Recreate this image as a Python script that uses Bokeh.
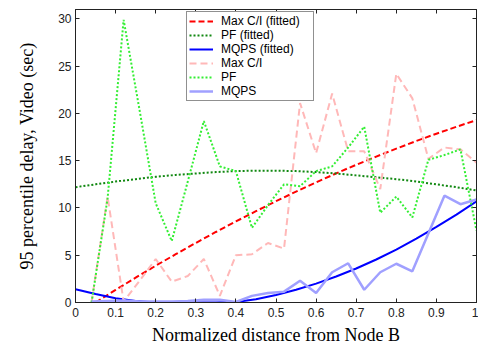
from bokeh.plotting import figure
from bokeh.models import Range1d, LinearAxis, FixedTicker, Legend, LegendItem
from bokeh.embed import file_html
from bokeh.resources import INLINE

# ---- data ----
x_raw = [0.04, 0.08, 0.12, 0.16, 0.20, 0.24, 0.28, 0.32, 0.36, 0.40, 0.44, 0.48, 0.52,
         0.56, 0.60, 0.64, 0.68, 0.72, 0.76, 0.80, 0.84, 0.88, 0.92, 0.96, 1.00]
maxci_raw = [0.0, 11.2, 0.1, 2.3, 4.6, 2.2, 2.8, 4.6, 0.7, 5.0, 5.1, 6.3, 5.7,
             21.1, 15.8, 22.1, 16.0, 16.0, 12.0, 24.2, 21.6, 15.2, 16.4, 16.2, 14.8]
pf_raw = [0.0, 11.0, 29.9, 20.3, 10.5, 6.5, 12.8, 19.2, 14.4, 13.9, 7.9, 10.3, 12.5,
          12.3, 13.9, 14.4, 16.4, 18.6, 9.5, 11.2, 9.0, 15.1, 15.6, 16.2, 7.6]
mqps_raw = [0.1, 0.15, 0.2, 0.1, 0.1, 0.1, 0.15, 0.3, 0.3, 0.05, 0.7, 1.0, 1.15,
            2.3, 1.0, 3.2, 4.15, 1.35, 3.2, 4.1, 3.3, 7.3, 11.3, 10.4, 10.9]

x_fit_maxci = [0.05, 0.10, 0.15, 0.20, 0.25, 0.30, 0.35, 0.40, 0.45, 0.50, 0.55,
               0.60, 0.65, 0.70, 0.75, 0.80, 0.85, 0.90, 0.95, 1.00]
maxci_fit = [0.0, 1.33, 2.63, 3.89, 5.11, 6.30, 7.46, 8.58, 9.66, 10.72, 11.73,
             12.71, 13.66, 14.57, 15.44, 16.28, 17.09, 17.86, 18.59, 19.30]
x_fit = [0.00, 0.05, 0.10, 0.15, 0.20, 0.25, 0.30, 0.35, 0.40, 0.45, 0.50,
         0.55, 0.60, 0.65, 0.70, 0.75, 0.80, 0.85, 0.90, 0.95, 1.00]
pf_fit = [12.2, 12.5, 12.8, 13.05, 13.3, 13.5, 13.65, 13.8, 13.9, 13.95, 13.95,
          13.9, 13.8, 13.65, 13.45, 13.25, 13.05, 12.8, 12.5, 12.2, 11.85]
mqps_fit = [1.4, 0.9, 0.45, 0.15, 0.0, 0.0, 0.0, 0.0, 0.05, 0.35, 0.8,
            1.35, 2.0, 2.75, 3.6, 4.55, 5.6, 6.75, 8.0, 9.3, 10.7]

x_ticks = [0, 0.1, 0.2, 0.3, 0.4, 0.5, 0.6, 0.7, 0.8, 0.9, 1]
x_tick_labels = ["0", "0.1", "0.2", "0.3", "0.4", "0.5", "0.6", "0.7", "0.8", "0.9", "1"]
y_ticks = [0, 5, 10, 15, 20, 25, 30]

p = figure(width=478, height=347, output_backend="svg", toolbar_location=None,
           x_range=Range1d(0, 1), y_range=Range1d(0, 31),
           min_border_left=75, min_border_right=2, min_border_top=9, min_border_bottom=43)
p.background_fill_color = "white"
p.border_fill_color = "white"
p.grid.visible = False
p.outline_line_color = "#222222"
p.outline_line_width = 1

tick_font = "Liberation Sans"
for ax in [p.xaxis[0], p.yaxis[0]]:
    ax.major_tick_in = 4
    ax.major_tick_out = 0
    ax.minor_tick_in = 0
    ax.minor_tick_out = 0
    ax.axis_line_color = "#222222"
    ax.major_tick_line_color = "#222222"
    ax.major_label_text_font = tick_font
    ax.major_label_text_font_size = "12px"
    ax.major_label_text_color = "#222222"
    ax.axis_label_text_font = "Liberation Serif"
    ax.axis_label_text_font_size = "18px"
    ax.axis_label_text_font_style = "normal"
    ax.axis_label_text_color = "black"

p.xaxis[0].ticker = FixedTicker(ticks=x_ticks)
p.xaxis[0].major_label_overrides = {t: l for t, l in zip(x_ticks, x_tick_labels)}
p.xaxis[0].major_label_standoff = 5
p.xaxis[0].axis_label = "Normalized distance from Node B"
p.xaxis[0].axis_label_standoff = 5
p.yaxis[0].ticker = FixedTicker(ticks=y_ticks)
p.yaxis[0].major_label_standoff = 4
p.yaxis[0].axis_label = "95 percentile delay, Video (sec)"
p.yaxis[0].axis_label_standoff = 18

top = LinearAxis(ticker=FixedTicker(ticks=x_ticks))
right = LinearAxis(ticker=FixedTicker(ticks=y_ticks))
for ax in [top, right]:
    ax.major_tick_in = 4
    ax.major_tick_out = 0
    ax.minor_tick_in = 0
    ax.minor_tick_out = 0
    ax.axis_line_color = "#222222"
    ax.major_tick_line_color = "#222222"
    ax.major_label_text_font_size = "0px"
    ax.major_label_standoff = 0
    ax.major_label_text_color = None
p.add_layout(top, "above")
p.add_layout(right, "right")

r1 = p.line(x_fit_maxci, maxci_fit, line_color="#ff0000", line_width=2, line_dash="6 3")
r2 = p.line(x_fit, pf_fit, line_color="#118811", line_width=2, line_dash="2 2")
r3 = p.line(x_fit, mqps_fit, line_color="#0000ff", line_width=2)
r4 = p.line(x_raw, maxci_raw, line_color="#ffb8b8", line_width=2, line_dash="7 4")
r5 = p.line(x_raw, pf_raw, line_color="#33ee33", line_width=2, line_dash="2 2")
r6 = p.line(x_raw, mqps_raw, line_color="#a0a0ff", line_width=2.5)

legend = Legend(items=[
    LegendItem(label="Max C/I (fitted)", renderers=[r1]),
    LegendItem(label="PF (fitted)", renderers=[r2]),
    LegendItem(label="MQPS (fitted)", renderers=[r3]),
    LegendItem(label="Max C/I", renderers=[r4]),
    LegendItem(label="PF", renderers=[r5]),
    LegendItem(label="MQPS", renderers=[r6]),
], location=(111, 201))
legend.label_text_font = tick_font
legend.label_text_font_size = "12px"
legend.label_text_color = "black"
legend.glyph_width = 24
legend.glyph_height = 14
legend.label_height = 14
legend.label_width = 90
legend.spacing = 0
legend.padding = 2
legend.margin = 0
legend.label_standoff = 8
legend.border_line_color = "#222222"
legend.border_line_width = 1
legend.background_fill_color = "white"
legend.background_fill_alpha = 1
p.add_layout(legend, "center")

open("out.html", "w").write(file_html(p, INLINE))
